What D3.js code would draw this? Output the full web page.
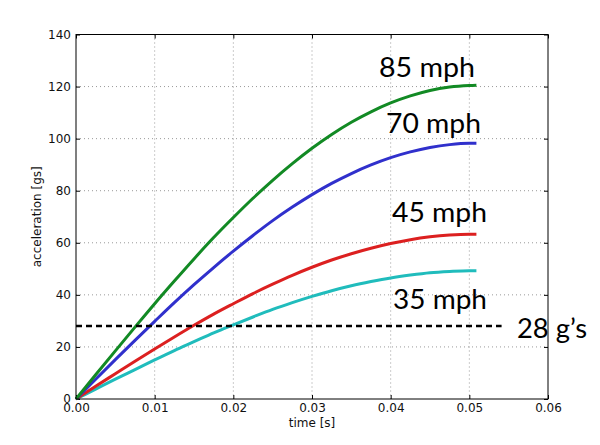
<!DOCTYPE html>
<html>
<head>
<meta charset="utf-8">
<script src="https://cdn.jsdelivr.net/npm/d3@7/dist/d3.min.js"></script>
<style>
  html, body { margin: 0; padding: 0; background: #fff; }
  svg { display: block; }
</style>
</head>
<body>
<script>
// ---- data ----
const times = [0, 0.0025, 0.005, 0.0075, 0.01, 0.0125, 0.015, 0.0175, 0.02, 0.0225, 0.025,
  0.0275, 0.03, 0.0325, 0.035, 0.0375, 0.04, 0.0425, 0.045, 0.0475, 0.05, 0.0509];
const accel85 = [0, 9.3, 18.5, 27.6, 36.6, 45.3, 53.8, 62.0, 69.7, 77.1, 84.0,
  90.4, 96.3, 101.6, 106.3, 110.3, 113.7, 116.4, 118.5, 119.8, 120.4, 120.5];
const accel70 = [0, 7.6, 15.1, 22.5, 29.8, 37.0, 43.9, 50.5, 56.8, 62.8, 68.5,
  73.7, 78.5, 82.8, 86.6, 89.9, 92.7, 94.9, 96.6, 97.7, 98.2, 98.2];
const accel45 = [0, 4.9, 9.7, 14.5, 19.2, 23.8, 28.3, 32.6, 36.6, 40.5, 44.1,
  47.5, 50.6, 53.4, 55.8, 57.9, 59.7, 61.2, 62.3, 63.0, 63.3, 63.3];
const accel35 = [0, 3.8, 7.6, 11.3, 15.0, 18.6, 22.0, 25.4, 28.5, 31.5, 34.4,
  37.0, 39.4, 41.6, 43.5, 45.1, 46.5, 47.6, 48.5, 49.0, 49.3, 49.3];
const seriesNames = ["85 mph", "70 mph", "45 mph", "35 mph"];
const thresholdValue = 28;
const thresholdLabel = "28 g\u2019s";
const thresholdSpan = [0, 0.0541];
const xTicks = [0, 0.01, 0.02, 0.03, 0.04, 0.05, 0.06];
const yTicks = [0, 20, 40, 60, 80, 100, 120, 140];
const xLabel = "time [s]";
const yLabel = "acceleration [gs]";

(function () {
// ---- layout ----
const W = 600, H = 445;
const mL = 76, mR = 548, mT = 34.5, mB = 399;

const svg = d3.select("body").append("svg").attr("width", W).attr("height", H);
svg.append("rect").attr("width", W).attr("height", H).attr("fill", "#fff");

const x = d3.scaleLinear().domain([0, 0.06]).range([mL, mR]);
const y = d3.scaleLinear().domain([0, 140]).range([mB, mT]);

// grid
const grid = svg.append("g");
grid.selectAll(".gx").data(xTicks.slice(1, -1)).join("line")
  .attr("x1", d => x(d)).attr("x2", d => x(d)).attr("y1", mT).attr("y2", mB)
  .attr("stroke", "#999").attr("stroke-width", 1).attr("stroke-dasharray", "1,3");
grid.selectAll(".gy").data(yTicks.slice(1, -1)).join("line")
  .attr("y1", d => y(d)).attr("y2", d => y(d)).attr("x1", mL).attr("x2", mR)
  .attr("stroke", "#999").attr("stroke-width", 1).attr("stroke-dasharray", "1,3");

// axes
const fmtX = d3.format(".2f");
const axB = d3.axisBottom(x).tickValues(xTicks).tickFormat(fmtX).tickSizeInner(-4).tickSizeOuter(0).tickPadding(4);
const axT = d3.axisTop(x).tickValues(xTicks).tickFormat("").tickSizeInner(-4).tickSizeOuter(0);
const axL = d3.axisLeft(y).tickValues(yTicks).tickFormat(d3.format("d")).tickSizeInner(-4).tickSizeOuter(0).tickPadding(5);
const axR = d3.axisRight(y).tickValues(yTicks).tickFormat("").tickSizeInner(-4).tickSizeOuter(0);

function style(g) {
  g.select(".domain").remove();
  g.selectAll(".tick line").attr("stroke", "#000");
  g.selectAll("text").attr("fill", "#111").attr("font-family", "DejaVu Sans").attr("font-size", 12);
}
svg.append("g").attr("transform", `translate(0,${mB})`).call(axB).call(style);
svg.append("g").attr("transform", `translate(0,${mT})`).call(axT).call(style);
svg.append("g").attr("transform", `translate(${mL},0)`).call(axL).call(style);
svg.append("g").attr("transform", `translate(${mR},0)`).call(axR).call(style);

// lines
const colors = ["#128a24", "#3030cc", "#dc2020", "#20bcbc"];
const allSeries = [accel85, accel70, accel45, accel35];
const line = d3.line().x(d => x(d[0])).y(d => y(d[1])).curve(d3.curveMonotoneX);
const plot = svg.append("g");
[3, 2, 1, 0].forEach(i => {
  plot.append("path")
    .datum(times.map((t, k) => [t, allSeries[i][k]]))
    .attr("d", line)
    .attr("fill", "none")
    .attr("stroke", colors[i])
    .attr("stroke-width", 3)
    .attr("stroke-linejoin", "round");
});

// threshold dashed line
plot.append("line")
  .attr("x1", x(thresholdSpan[0])).attr("x2", x(thresholdSpan[1]))
  .attr("y1", y(thresholdValue)).attr("y2", y(thresholdValue))
  .attr("stroke", "#000").attr("stroke-width", 2.5).attr("stroke-dasharray", "6,4");

// frame
svg.append("rect").attr("x", mL).attr("y", mT).attr("width", mR - mL).attr("height", mB - mT)
  .attr("fill", "none").attr("stroke", "#000").attr("stroke-width", 1);

// annotations
const ann = [
  { t: seriesNames[0], x0: 379, x1: 475, base: 77 },
  { t: seriesNames[1], x0: 386, x1: 481, base: 133 },
  { t: seriesNames[2], x0: 392, x1: 487, base: 222 },
  { t: seriesNames[3], x0: 393, x1: 487, base: 309 },
  { t: thresholdLabel, x0: 517, x1: 587, base: 337.5 }
];
svg.selectAll(".ann").data(ann).join("text")
  .attr("x", d => d.x0).attr("y", d => d.base)
  .attr("textLength", d => d.x1 - d.x0).attr("lengthAdjust", "spacingAndGlyphs")
  .attr("font-family", "Lato, 'Open Sans', sans-serif").attr("font-size", 27)
  .attr("fill", "#000")
  .text(d => d.t);

// axis labels
svg.append("text").attr("x", (mL + mR) / 2).attr("y", 427).attr("text-anchor", "middle")
  .attr("font-family", "DejaVu Sans").attr("font-size", 12).attr("fill", "#111").text(xLabel);
svg.append("text").attr("transform", `translate(41,${(mT + mB) / 2}) rotate(-90)`)
  .attr("text-anchor", "middle")
  .attr("font-family", "DejaVu Sans").attr("font-size", 12).attr("fill", "#111").text(yLabel);
})();
</script>
</body>
</html>
